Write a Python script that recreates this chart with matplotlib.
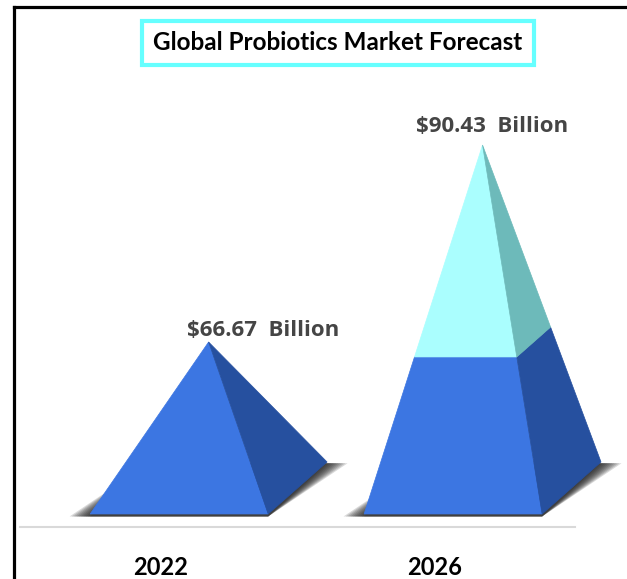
import numpy as np
import matplotlib.pyplot as plt
from matplotlib.patches import Polygon
from matplotlib.lines import Line2D

# Chart data (stacked pyramid: base series + increase to 2026)
years = ["2022", "2026"]
base_values = [66.67, 66.67]
increase_values = [0.0, 23.76]
labels = ["$66.67  Billion", "$90.43  Billion"]

# geometry / style
VMIN = 49.06          # value at the pyramid base
HW = 0.325            # half width of the front face (category units)
SHIFT = 0.066         # pyramid front centre vs category slot
DX, DY = 0.215, 6.27  # oblique depth offset (x units, value units)
FRONT = ["#3c76e2", "#aafefe"]
SIDE = ["#26509f", "#6dbaba"]


def point(xc, top, v, side, z):
    # point on the pyramid surface at value v; side -1/+1 in x, z 0 front / 1 back
    s = (top - v) / (top - VMIN)
    x = xc + side * HW * s
    zz = 0.5 + (z - 0.5) * s
    return (x + zz * DX, v + zz * DY)


fig = plt.figure(figsize=(6.27, 5.79), dpi=100)
ax = fig.add_axes([20 / 627, (579 - 527) / 579, 555 / 627, 447 / 579])
ax.set_xlim(-0.515, 1.511)
ax.set_ylim(47.49, 101.41)

totals = np.array(base_values) + np.array(increase_values)
for i in range(len(years)):
    xc = i + SHIFT
    top = totals[i]

    # soft shadow under the base
    for e in np.linspace(0.075, 0.0, 10):
        shadow = [(xc - HW - e, VMIN - 0.3), (xc + HW, VMIN - 0.3),
                  (xc + HW + DX + e, VMIN + DY - 0.15), (xc - HW + DX, VMIN + DY - 0.15)]
        ax.add_patch(Polygon(shadow, closed=True, color="#1a1a1a", alpha=0.16,
                             lw=0, zorder=1, clip_on=False))

    segments = [(VMIN, base_values[i]), (base_values[i], top)]
    for k, (v0, v1) in enumerate(segments):
        if v1 - v0 <= 0:
            continue
        front = [point(xc, top, v0, -1, 0), point(xc, top, v0, 1, 0),
                 point(xc, top, v1, 1, 0), point(xc, top, v1, -1, 0)]
        side = [point(xc, top, v0, 1, 0), point(xc, top, v0, 1, 1),
                point(xc, top, v1, 1, 1), point(xc, top, v1, 1, 0)]
        ax.add_patch(Polygon(front, closed=True, facecolor=FRONT[k],
                             edgecolor=FRONT[k], lw=0.5, zorder=3, clip_on=False))
        ax.add_patch(Polygon(side, closed=True, facecolor=SIDE[k],
                             edgecolor=SIDE[k], lw=0.5, zorder=3, clip_on=False))

# value labels next to the apex
label_offsets = [(39.5, 8), (6.5, 13)]
for i in range(len(years)):
    apex = (i + SHIFT + DX / 2, totals[i] + DY / 2)
    ax.annotate(labels[i], xy=apex, xytext=label_offsets[i],
                textcoords="offset points", ha="center", va="center",
                fontsize=16, fontweight="bold", color="#454545",
                family="Open Sans", zorder=5)

ax.set_xticks(range(len(years)))
ax.set_xticklabels(years, fontsize=17, fontweight="bold", family="Lato")
ax.tick_params(axis="x", length=0, pad=21)
ax.set_yticks([])
for s in ["top", "left", "right"]:
    ax.spines[s].set_visible(False)
ax.spines["bottom"].set_color("#d9d9d9")
ax.spines["bottom"].set_linewidth(1.5)
ax.patch.set_alpha(0)

# title in a cyan box
fig.text(338 / 627, 1 - 43 / 579, "Global Probiotics Market Forecast",
         ha="center", va="center", fontsize=17.5, fontweight="bold", family="Lato",
         bbox=dict(boxstyle="square,pad=0.45", facecolor="white",
                   edgecolor="#66ffff", linewidth=3))

# outer frame (left and top edges)
fig.add_artist(Line2D([13.5 / 627, 13.5 / 627], [0, 1 - 7 / 579],
                      transform=fig.transFigure, color="black", lw=2.3))
fig.add_artist(Line2D([13.5 / 627, 1], [1 - 7 / 579, 1 - 7 / 579],
                      transform=fig.transFigure, color="black", lw=2.3))

fig.savefig("out.png", dpi=100)
